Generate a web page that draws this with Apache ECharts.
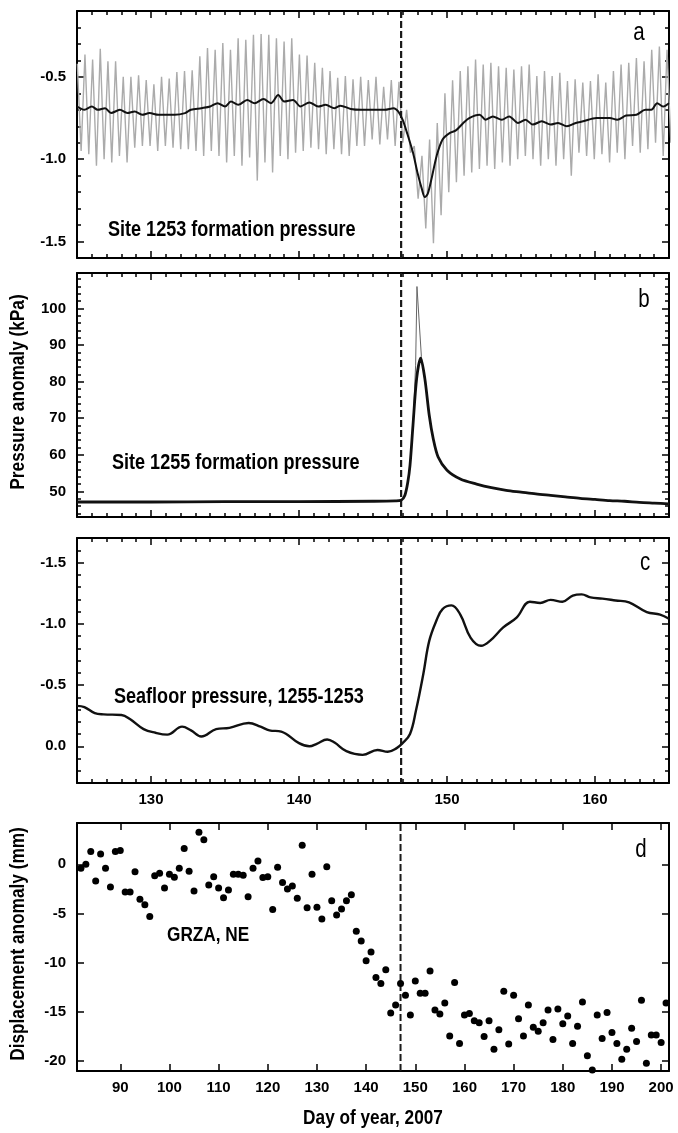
<!DOCTYPE html>
<html>
<head>
<meta charset="utf-8">
<script src="https://cdn.jsdelivr.net/npm/echarts@6/dist/echarts.min.js"></script>
<style>
html,body{margin:0;padding:0;background:#fff;}
#chart{width:678px;height:1133px;}
</style>
</head>
<body>
<div id="chart"></div>
<script>
// ---------------- DATA ----------------
// Panel a: Site 1253 formation pressure (raw tidal signal as successive peaks/troughs, and filtered line)
const aTideStart = 125.02;   // day of first tidal peak
const aTideStep = 0.5175;    // semidiurnal spacing (days)
const aGrayPeak = [-0.42,
  -0.365,-0.395,-0.33,-0.405,-0.405,-0.5,-0.5,-0.49,-0.52,-0.545,-0.5,-0.51,-0.47,-0.465,-0.46,-0.375,-0.325,-0.335,
  -0.295,-0.335,-0.265,-0.275,-0.245,-0.24,-0.245,-0.265,-0.285,-0.265,-0.365,-0.37,-0.415,-0.445,-0.465,-0.505,-0.495,-0.515,
  -0.50,-0.52,-0.50,-0.56,-0.52,-0.53,
  -0.70,-0.92,-0.98,-0.88,-0.78,-0.60,-0.52,-0.465,-0.435,-0.395,-0.425,-0.415,-0.435,-0.445,-0.455,-0.435,
  -0.425,-0.495,-0.465,-0.495,-0.475,-0.525,-0.515,-0.535,-0.525,-0.485,-0.535,-0.465,-0.425,-0.415,-0.385,-0.405,-0.335,-0.315,-0.335];
const aGrayTrough = [-0.95,
  -0.97,-1.04,-1.0,-1.02,-0.98,-1.02,-0.93,-0.92,-0.92,-0.95,-0.92,-0.93,-0.94,-0.94,-0.95,-0.98,-0.95,-0.98,
  -1.02,-0.98,-1.04,-0.99,-1.13,-1.02,-1.08,-0.98,-1.0,-0.96,-0.95,-0.93,-0.94,-0.97,-0.94,-0.97,-0.98,-0.92,
  -0.92,-0.88,-0.91,-0.88,-0.92,-0.90,
  -0.96,-1.24,-1.42,-1.51,-1.34,-1.20,-1.14,-1.10,-1.08,-1.06,-1.04,-1.06,-1.02,-1.04,-1.0,-0.98,
  -1.0,-1.04,-1.0,-1.04,-1.0,-1.1,-0.96,-0.98,-1.0,-0.97,-1.02,-0.96,-1.0,-0.92,-0.96,-0.94,-0.90,-0.98,-0.90];
const aLineDays = [125.0,125.5,126.0,126.4,126.9,127.3,127.9,128.4,128.9,129.4,129.9,130.5,131.1,131.6,132.3,132.7,133.4,134.0,134.5,135.0,
  135.4,135.9,136.5,137.0,137.6,138.1,138.6,139.0,139.6,140.1,140.7,141.3,141.8,142.4,142.8,143.5,144.2,145.0,145.8,146.4,
  146.7,147.0,147.3,147.7,148.0,148.3,148.5,148.7,149.0,149.3,149.7,150.2,150.6,151.1,151.5,152.2,152.6,153.1,153.7,154.2,
  154.8,155.3,155.8,156.4,157.0,157.5,158.1,158.7,159.2,160.1,161.0,161.5,162.1,162.8,163.4,163.8,164.2,164.6,165.0];
const aLineVals = [-0.68,-0.70,-0.68,-0.70,-0.69,-0.72,-0.70,-0.72,-0.71,-0.73,-0.72,-0.73,-0.73,-0.73,-0.72,-0.70,-0.69,-0.68,-0.66,-0.68,
  -0.65,-0.67,-0.64,-0.66,-0.635,-0.66,-0.61,-0.65,-0.64,-0.68,-0.655,-0.68,-0.67,-0.69,-0.675,-0.695,-0.70,-0.70,-0.70,-0.69,
  -0.71,-0.76,-0.84,-0.96,-1.08,-1.18,-1.23,-1.21,-1.10,-0.98,-0.88,-0.84,-0.825,-0.78,-0.75,-0.73,-0.76,-0.74,-0.76,-0.74,
  -0.78,-0.76,-0.79,-0.77,-0.79,-0.78,-0.80,-0.78,-0.77,-0.75,-0.75,-0.76,-0.735,-0.73,-0.70,-0.70,-0.66,-0.68,-0.66];

// Panel b: Site 1255 formation pressure (kPa)
const bLineDays = [125,130,135,140,145,146.5,146.9,147.15,147.35,147.5,147.7,147.95,148.22,148.5,148.8,149.07,149.4,150.0,150.9,
  152,153,154,155,156,157,158,159,160,161,162,163,164,165];
const bLineVals = [47.1,47.1,47.2,47.2,47.3,47.4,47.6,48.9,52.5,57.1,68.0,80.9,86.4,80.9,70.8,64.4,59.4,55.8,53.4,
  52.0,51.0,50.3,49.8,49.3,48.9,48.5,48.1,47.8,47.5,47.3,47.0,46.8,46.6];
const bRawDays = [147.5,147.7,147.88,147.97,148.27,148.5];
const bRawVals = [57.1,68.0,84.5,106.0,86.8,80.9];

// Panel c: Seafloor pressure, 1255-1253
const cDays = [125.0,125.5,126.2,126.8,128.0,128.6,129.5,130.3,131.1,132.1,132.7,133.4,134.4,135.3,136.6,137.4,138.0,138.8,140.0,140.7,
  141.2,141.9,142.4,143.2,144.3,145.3,146.0,146.6,147.0,147.5,147.9,148.4,148.8,149.3,149.7,150.3,150.9,151.6,152.3,152.9,
  153.8,154.7,155.6,156.3,157.0,157.8,158.5,159.1,159.7,160.5,161.4,162.3,163.5,164.4,165.0];
const cVals = [-0.33,-0.32,-0.27,-0.26,-0.255,-0.22,-0.14,-0.11,-0.095,-0.16,-0.13,-0.08,-0.14,-0.15,-0.19,-0.16,-0.13,-0.12,-0.025,0.0,
  -0.02,-0.055,-0.03,0.04,0.07,0.03,0.045,0.015,-0.025,-0.1,-0.29,-0.59,-0.86,-1.03,-1.12,-1.15,-1.075,-0.885,-0.82,-0.86,
  -0.97,-1.05,-1.18,-1.17,-1.195,-1.18,-1.23,-1.24,-1.215,-1.205,-1.19,-1.175,-1.095,-1.075,-1.04];

// Panel d: GRZA, NE displacement (mm), daily from day 82
const dFirstDay = 82;
const dVals = [-0.4,0.0,1.3,-1.7,1.05,-0.4,-2.3,1.3,1.4,-2.8,
  -2.8,-0.75,-3.55,-4.1,-5.3,-1.15,-0.9,-2.4,-1.0,-1.3,
  -0.4,1.6,-0.7,-2.7,3.25,2.5,-2.1,-1.25,-2.4,-3.4,
  -2.6,-1.0,-1.0,-1.1,-3.3,-0.4,0.35,-1.35,-1.25,-4.6,
  -0.3,-1.85,-2.5,-2.2,-3.45,1.95,-4.4,-1.0,-4.35,-5.55,
  -0.25,-3.7,-5.15,-4.55,-3.7,-3.1,-6.8,-7.8,-9.8,-8.9,
  -11.5,-12.1,-10.7,-15.1,-14.3,-12.1,-13.3,-15.3,-11.85,-13.1,
  -13.1,-10.85,-14.8,-15.2,-14.1,-17.45,-12.0,-18.2,-15.3,-15.15,
  -15.9,-16.1,-17.5,-15.9,-18.8,-16.8,-12.9,-18.25,-13.3,-15.7,
  -17.45,-14.3,-16.55,-16.95,-16.1,-14.8,-17.8,-14.7,-16.2,-15.4,
  -18.2,-16.45,-14.0,-19.45,-20.9,-15.3,-17.7,-15.05,-17.1,-18.2,
  -19.8,-18.8,-16.65,-18.0,-13.8,-20.2,-17.35,-17.35,-18.1,-14.1];

const eventDayTop = 146.9;
const eventDayD = 147;

// axis ranges and tick labels
const xRangeTop = [125, 165];
const xTicksTop = [130, 140, 150, 160];
const xRangeD = [81.2, 201.6];
const xTicksD = [90, 100, 110, 120, 130, 140, 150, 160, 170, 180, 190, 200];
const yRangeA = [-1.6, -0.1];
const yTicksA = [-1.5, -1.0, -0.5];
const yRangeB = [43, 109.7];
const yTicksB = [50, 60, 70, 80, 90, 100];
const yRangeC = [-1.7, 0.3];
const yTicksC = [-1.5, -1.0, -0.5, 0.0];
const yRangeD = [-21, 4.2];
const yTicksD = [-20, -15, -10, -5, 0];

const panelTexts = ['Site 1253 formation pressure', 'Site 1255 formation pressure', 'Seafloor pressure, 1255-1253', 'GRZA, NE'];
const panelLetters = ['a', 'b', 'c', 'd'];

// ---------------- BUILD ----------------
function stepValues(lo, hi, step) {
  const out = [];
  const n0 = Math.ceil(lo / step - 1e-9), n1 = Math.floor(hi / step + 1e-9);
  for (let n = n0; n <= n1; n++) out.push(+(n * step).toFixed(6));
  return out;
}

const FONT = "'Liberation Sans', Arial, sans-serif";
const NARROW = 0.82; // horizontal squeeze of the original figure's lettering
const grids = [
  { left: 77, right: 9, top: 11, height: 247 },
  { left: 77, right: 9, top: 273, height: 244 },
  { left: 77, right: 9, top: 538, height: 245 },
  { left: 77, right: 9, top: 823, height: 248 }
];

const xAxes = [], yAxes = [];
function addAxis(list, g, position, range, ticks, len, labels, fmt, inverse, line) {
  list.push({
    type: 'value', gridIndex: g, position: position, min: range[0], max: range[1], inverse: !!inverse,
    axisLine: { show: !!line, onZero: false, lineStyle: { color: '#000', width: 2 } },
    axisTick: { show: ticks.length > 0, inside: true, length: len, customValues: ticks, lineStyle: { color: '#000', width: 1.5 } },
    axisLabel: labels ? { show: true, customValues: labels, formatter: fmt, margin: (position === 'bottom' ? 9 : 11),
      color: '#000', fontFamily: FONT, fontSize: 15, fontWeight: 'bold' } : { show: false },
    splitLine: { show: false }
  });
  return list.length - 1;
}
function buildGrid(g, xr, xMajor, xMinor, xLabels, yr, yMajor, yMinor, yFmt, yInv) {
  const xi = addAxis(xAxes, g, 'bottom', xr, xMajor, 7, xLabels, v => String(v), false, true);
  if (xMinor) addAxis(xAxes, g, 'bottom', xr, xMinor, 4, null, null, false, false);
  addAxis(xAxes, g, 'top', xr, xMajor, 7, null, null, false, true);
  if (xMinor) addAxis(xAxes, g, 'top', xr, xMinor, 4, null, null, false, false);
  const yi = addAxis(yAxes, g, 'left', yr, yMajor, 7, yMajor, yFmt, yInv, true);
  if (yMinor) addAxis(yAxes, g, 'left', yr, yMinor, 4, null, null, yInv, false);
  addAxis(yAxes, g, 'right', yr, yMajor, 7, null, null, yInv, true);
  if (yMinor) addAxis(yAxes, g, 'right', yr, yMinor, 4, null, null, yInv, false);
  return [xi, yi];
}
const dayMinor = stepValues(xRangeTop[0], xRangeTop[1], 1);
const fmt1 = v => (Math.abs(v) < 1e-9 ? 0 : v).toFixed(1);
const fmt0 = v => String(Math.round(v));
const A = buildGrid(0, xRangeTop, xTicksTop, dayMinor, null, yRangeA, yTicksA, stepValues(yRangeA[0], yRangeA[1], 0.1), fmt1, false);
const B = buildGrid(1, xRangeTop, xTicksTop, dayMinor, null, yRangeB, yTicksB, stepValues(yRangeB[0], yRangeB[1], 2), fmt0, false);
const C = buildGrid(2, xRangeTop, xTicksTop, dayMinor, xTicksTop, yRangeC, yTicksC, stepValues(yRangeC[0], yRangeC[1], 0.1), fmt1, true);
const D = buildGrid(3, xRangeD, xTicksD, null, xTicksD, yRangeD, yTicksD, null, fmt0, false);

const zip = (xs, ys) => xs.map((x, i) => [x, ys[i]]);
const tide = [];
aGrayPeak.forEach((p, k) => {
  const t = aTideStart + aTideStep * k;
  tide.push([t, p]);
  tide.push([t + aTideStep / 2, aGrayTrough[k]]);
});
const dData = dVals.map((v, i) => [dFirstDay + i, v]);

function dashed(ax, day, yr, w) {
  return { type: 'line', xAxisIndex: ax[0], yAxisIndex: ax[1], data: [[day, yr[0]], [day, yr[1]]], symbol: 'none', silent: true,
    lineStyle: { color: '#1a1a1a', width: w, type: [7, 3] }, z: 3 };
}

const series = [
  { type: 'line', xAxisIndex: A[0], yAxisIndex: A[1], data: tide, symbol: 'none', lineStyle: { color: '#ababab', width: 1.4 }, z: 2 },
  dashed(A, eventDayTop, yRangeA, 2.2),
  { type: 'line', xAxisIndex: A[0], yAxisIndex: A[1], data: zip(aLineDays, aLineVals), symbol: 'none', smooth: 0.3, lineStyle: { color: '#111', width: 2 }, z: 4 },
  { type: 'line', xAxisIndex: B[0], yAxisIndex: B[1], data: zip(bRawDays, bRawVals), symbol: 'none', lineStyle: { color: '#666', width: 1 }, z: 2 },
  dashed(B, eventDayTop, yRangeB, 2.2),
  { type: 'line', xAxisIndex: B[0], yAxisIndex: B[1], data: zip(bLineDays, bLineVals), symbol: 'none', smooth: 0.3, lineStyle: { color: '#111', width: 2.8 }, z: 4 },
  dashed(C, eventDayTop, yRangeC, 2.2),
  { type: 'line', xAxisIndex: C[0], yAxisIndex: C[1], data: zip(cDays, cVals), symbol: 'none', smooth: 0.4, lineStyle: { color: '#111', width: 2.4 }, z: 4 },
  dashed(D, eventDayD, yRangeD, 2),
  { type: 'scatter', xAxisIndex: D[0], yAxisIndex: D[1], data: dData, symbol: 'circle', symbolSize: 7, itemStyle: { color: '#000', opacity: 1 }, z: 4 }
];

const textStyle = (size, weight) => ({ fill: '#000', fontFamily: FONT, fontSize: size, fontWeight: weight });
const annPos = [[108, 230], [112, 463], [114, 697], [167, 935]];
const letterPos = [[639, 33], [644, 300], [645, 563], [641, 850]];
const graphic = [];
panelTexts.forEach((t, i) => graphic.push({ type: 'text', x: annPos[i][0], y: annPos[i][1], scaleX: NARROW,
  style: Object.assign({ text: t, textAlign: 'left', textVerticalAlign: 'middle' }, textStyle(i === 3 ? 21 : 22, 'bold')) }));
panelLetters.forEach((t, i) => graphic.push({ type: 'text', x: letterPos[i][0], y: letterPos[i][1], scaleX: NARROW,
  style: Object.assign({ text: t, textAlign: 'center', textVerticalAlign: 'middle' }, textStyle(25, 'normal')) }));
graphic.push({ type: 'text', x: 18, y: 392, rotation: Math.PI / 2, scaleX: NARROW,
  style: Object.assign({ text: 'Pressure anomaly (kPa)', textAlign: 'center', textVerticalAlign: 'middle' }, textStyle(21, 'bold')) });
graphic.push({ type: 'text', x: 18, y: 944, rotation: Math.PI / 2, scaleX: NARROW,
  style: Object.assign({ text: 'Displacement anomaly (mm)', textAlign: 'center', textVerticalAlign: 'middle' }, textStyle(21, 'bold')) });
graphic.push({ type: 'text', x: 373, y: 1118, scaleX: NARROW,
  style: Object.assign({ text: 'Day of year, 2007', textAlign: 'center', textVerticalAlign: 'middle' }, textStyle(21, 'bold')) });

const chart = echarts.init(document.getElementById('chart'), null, { renderer: 'canvas' });
chart.setOption({
  animation: false,
  backgroundColor: '#fff',
  grid: grids,
  xAxis: xAxes,
  yAxis: yAxes,
  series: series,
  graphic: graphic
});
</script>
</body>
</html>
